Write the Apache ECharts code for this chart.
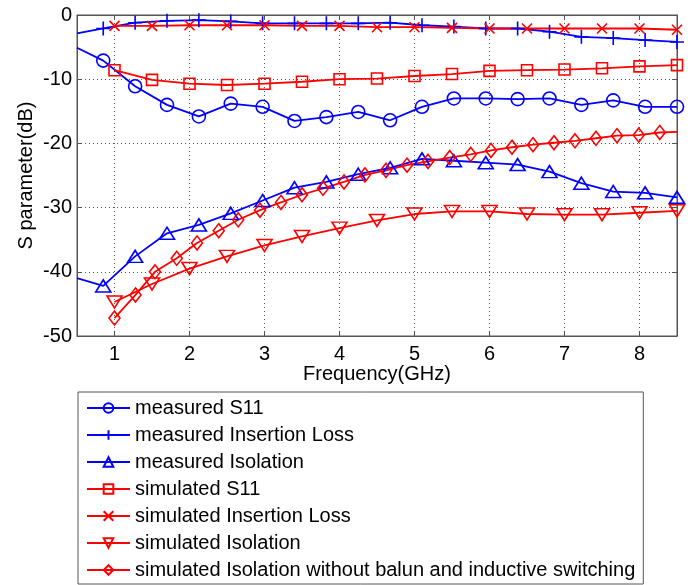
<!DOCTYPE html>
<html>
<head>
<meta charset="utf-8">
<script src="https://cdn.jsdelivr.net/npm/echarts@6/dist/echarts.min.js"></script>
<style>
html,body{margin:0;padding:0;background:#fff;}
#chart{width:697px;height:585px;}
</style>
</head>
<body>
<div id="chart"></div>
<script>
// ---- data ----
const measFreq = [0.5, 0.85, 1.275, 1.70, 2.125, 2.55, 2.975, 3.40, 3.825, 4.25, 4.675, 5.10, 5.525, 5.95, 6.375, 6.80, 7.225, 7.65, 8.075, 8.50];
const measS11 = [-5.1, -7.1, -11.1, -14.0, -15.8, -13.8, -14.3, -16.5, -15.9, -15.1, -16.4, -14.3, -13.0, -13.0, -13.1, -13.0, -14.0, -13.3, -14.3, -14.3];
const measIL  = [-2.85, -2.1, -1.2, -0.9, -0.8, -1.0, -1.3, -1.3, -1.3, -1.3, -1.2, -1.6, -1.8, -2.1, -2.1, -2.6, -3.4, -3.6, -3.9, -4.2];
const measIso = [-41.0, -42.2, -37.6, -34.0, -32.7, -30.9, -28.9, -26.9, -26.0, -24.8, -23.8, -22.4, -22.7, -23.0, -23.3, -24.4, -26.2, -27.5, -27.7, -28.4];

const simFreq = [1, 1.5, 2, 2.5, 3, 3.5, 4, 4.5, 5, 5.5, 6, 6.5, 7, 7.5, 8, 8.5];
const simS11 = [-8.6, -10.1, -10.7, -10.9, -10.7, -10.4, -10.0, -9.9, -9.5, -9.2, -8.7, -8.6, -8.5, -8.3, -8.0, -7.8];
const simIL  = [-1.7, -1.7, -1.6, -1.6, -1.6, -1.7, -1.7, -1.9, -1.9, -2.0, -2.1, -2.1, -2.1, -2.1, -2.1, -2.3];
const simIso = [-44.7, -41.9, -39.5, -37.6, -35.9, -34.5, -33.2, -32.0, -31.0, -30.6, -30.6, -31.0, -31.1, -31.1, -30.8, -30.5];

const noBalunFreq = [1.0, 1.28, 1.54, 1.83, 2.1, 2.39, 2.65, 2.94, 3.22, 3.5, 3.78, 4.06, 4.34, 4.62, 4.9, 5.18, 5.47, 5.75, 6.02, 6.3, 6.58, 6.86, 7.14, 7.42, 7.7, 7.99, 8.27, 8.5];
const noBalunIso  = [-47.2, -43.6, -40.0, -37.9, -35.5, -33.6, -31.9, -30.4, -29.2, -28.0, -27.0, -26.0, -24.9, -24.2, -23.4, -22.8, -22.2, -21.7, -21.1, -20.6, -20.2, -19.9, -19.6, -19.2, -18.8, -18.7, -18.3, -18.2];

const xTicks = [1, 2, 3, 4, 5, 6, 7, 8];
const seriesNames = [
  'measured S11',
  'measured Insertion Loss',
  'measured Isolation',
  'simulated S11',
  'simulated Insertion Loss',
  'simulated Isolation',
  'simulated Isolation without balun and inductive switching'
];

// ---- build ----
const BLUE = '#0000ff', RED = '#ff0000';
const FONT = 'Liberation Sans, Arial, sans-serif';
function pts(xs, ys, skip) {
  return xs.map((x, i) => skip.indexOf(i) >= 0 ? {value: [x, ys[i]], symbol: 'none'} : [x, ys[i]]);
}
const PLUS = 'path://M0,5L10,5M5,0L5,10';
const CROSS = 'path://M0,0L10,10M0,10L10,0';
const DOWN_TRI = 'path://M0,0L10,0L5,8.66Z';
function mk(name, data, color, symbol, size) {
  return {
    name, type: 'line', data, symbol, symbolSize: size,
    symbolKeepAspect: false, showAllSymbol: true, animation: false,
    lineStyle: {color, width: 1.8},
    itemStyle: {color: 'rgba(255,255,255,0)', borderColor: color, borderWidth: 1.6},
    emphasis: {disabled: true}
  };
}
const series = [
  mk(seriesNames[0], pts(measFreq, measS11, [0]), BLUE, 'circle', 13),
  mk(seriesNames[1], pts(measFreq, measIL, [0]), BLUE, PLUS, 14),
  mk(seriesNames[2], pts(measFreq, measIso, [0]), BLUE, 'triangle', [15, 12]),
  mk(seriesNames[3], pts(simFreq, simS11, []), RED, 'rect', 11),
  mk(seriesNames[4], pts(simFreq, simIL, []), RED, CROSS, 10),
  mk(seriesNames[5], pts(simFreq, simIso, []), RED, DOWN_TRI, [15, 12]),
  mk(seriesNames[6], pts(noBalunFreq, noBalunIso, [noBalunFreq.length - 1]), RED, 'diamond', [11, 14])
];

const chart = echarts.init(document.getElementById('chart'), null, {renderer: 'canvas'});
chart.setOption({
  backgroundColor: '#fff',
  animation: false,
  textStyle: {fontFamily: FONT},
  grid: {left: 77, top: 15, right: 20, bottom: 249, show: true, borderColor: '#555', borderWidth: 1, backgroundColor: 'transparent'},
  legend: {
    orient: 'vertical', left: 78, top: 392,
    padding: [6, 8, 4, 8], itemGap: 7, itemWidth: 43, itemHeight: 12,
    backgroundColor: '#fff', borderColor: '#555', borderWidth: 1, borderRadius: 0,
    textStyle: {fontSize: 20, color: '#000', fontFamily: FONT, lineHeight: 20},
    data: seriesNames, selectedMode: false
  },
  xAxis: [{
    type: 'value', min: 0.5, max: 8.5, position: 'bottom',
    name: 'Frequency(GHz)', nameLocation: 'middle', nameGap: 28, nameMoveOverlap: false,
    nameTextStyle: {fontSize: 20, color: '#000', fontFamily: FONT},
    axisLine: {show: true, onZero: false, lineStyle: {color: '#555'}},
    axisTick: {show: true, inside: true, length: 5, customValues: xTicks, lineStyle: {color: '#555'}},
    axisLabel: {customValues: xTicks, fontSize: 20, color: '#000', margin: 8, fontFamily: FONT},
    splitLine: {show: true, lineStyle: {color: '#555', type: [1, 3], width: 1}}
  }, {
    type: 'value', min: 0.5, max: 8.5, position: 'top',
    axisLine: {show: true, onZero: false, lineStyle: {color: '#555'}},
    axisTick: {show: true, inside: true, length: 5, customValues: xTicks, lineStyle: {color: '#555'}},
    axisLabel: {show: false}, splitLine: {show: false}
  }],
  yAxis: [{
    type: 'value', min: -50, max: 0, interval: 10, position: 'left',
    name: 'S parameter(dB)', nameLocation: 'middle', nameGap: 41, nameRotate: 90, nameMoveOverlap: false,
    nameTextStyle: {fontSize: 20, color: '#000', fontFamily: FONT},
    axisLine: {show: true, onZero: false, lineStyle: {color: '#555'}},
    axisTick: {show: true, inside: true, length: 5, lineStyle: {color: '#555'}},
    axisLabel: {fontSize: 20, color: '#000', margin: 5, fontFamily: FONT},
    splitLine: {show: true, lineStyle: {color: '#555', type: [1, 3], width: 1}}
  }, {
    type: 'value', min: -50, max: 0, interval: 10, position: 'right',
    axisLine: {show: true, onZero: false, lineStyle: {color: '#555'}},
    axisTick: {show: true, inside: true, length: 5, lineStyle: {color: '#555'}},
    axisLabel: {show: false}, splitLine: {show: false}
  }],
  series
});
</script>
</body>
</html>
